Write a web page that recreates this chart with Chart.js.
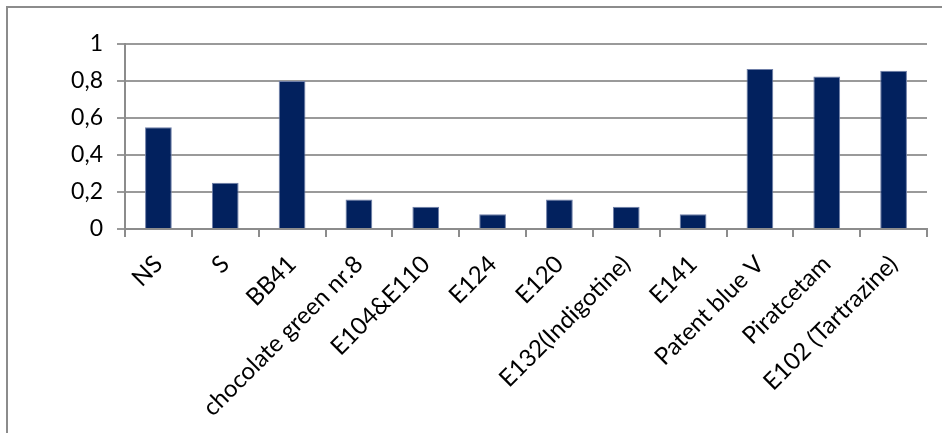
<!DOCTYPE html>
<html>
<head>
<meta charset="utf-8">
<script src="https://cdn.jsdelivr.net/npm/chart.js@4/dist/chart.umd.min.js"></script>
<style>
  html, body { margin:0; padding:0; background:#fff; }
  #wrap { position:relative; width:942px; height:433px; }
  #frame { position:absolute; left:6px; top:6px; right:-4px; bottom:-4px; border-left:2px solid #8c8c8c; border-top:2px solid #8c8c8c; }
  canvas { position:absolute; left:0; top:0; }
</style>
</head>
<body>
<div id="wrap">
  <div id="frame"></div>
  <canvas id="chart" width="942" height="433"></canvas>
</div>
<script>
// samples and measured values
const categories = ['NS','S','BB41','chocolate green nr.8','E104&E110','E124','E120','E132(Indigotine)','E141','Patent blue V','Piratcetam','E102 (Tartrazine)'];
const values = [0.55, 0.25, 0.80, 0.16, 0.12, 0.08, 0.16, 0.12, 0.08, 0.865, 0.825, 0.855];
const yTicks = [0, 0.2, 0.4, 0.6, 0.8, 1];

const ctx = document.getElementById('chart').getContext('2d');
new Chart(ctx, {
  type: 'bar',
  data: {
    labels: categories,
    datasets: [{
      data: values,
      backgroundColor: '#02215e',
      borderColor: '#6f7fa8',
      borderWidth: 1,
      barPercentage: 0.4,
      categoryPercentage: 1
    }]
  },
  options: {
    responsive:false,
    animation:false,
    layout:{ padding:{ left:0, top:44, right:15, bottom:0 } },
    plugins:{ legend:{ display:false }, tooltip:{ enabled:false } },
    scales:{
      x:{
        afterFit: s => { s.height = 204; },
        grid:{ offset:true, drawOnChartArea:false, drawTicks:true, tickLength:8, color:'#8c8c8c', lineWidth:2 },
        border:{ color:'#8c8c8c', width:2 },
        ticks:{ color:'#000', font:{ family:'Lato', size:24 }, maxRotation:45, minRotation:45, padding:13, autoSkip:false }
      },
      y:{
        min:0, max:1,
        afterFit: s => { s.width = 125; },
        afterBuildTicks: s => { s.ticks = yTicks.map(v => ({ value:v })); },
        grid:{ color:'#9a9a9a', lineWidth:2, tickLength:8 },
        border:{ color:'#8c8c8c', width:2 },
        ticks:{ color:'#000', font:{ family:'Lato', size:23 }, padding:14,
          callback: v => String(+v.toFixed(1)).replace('.', ',') }
      }
    }
  }
});
</script>
</body>
</html>
